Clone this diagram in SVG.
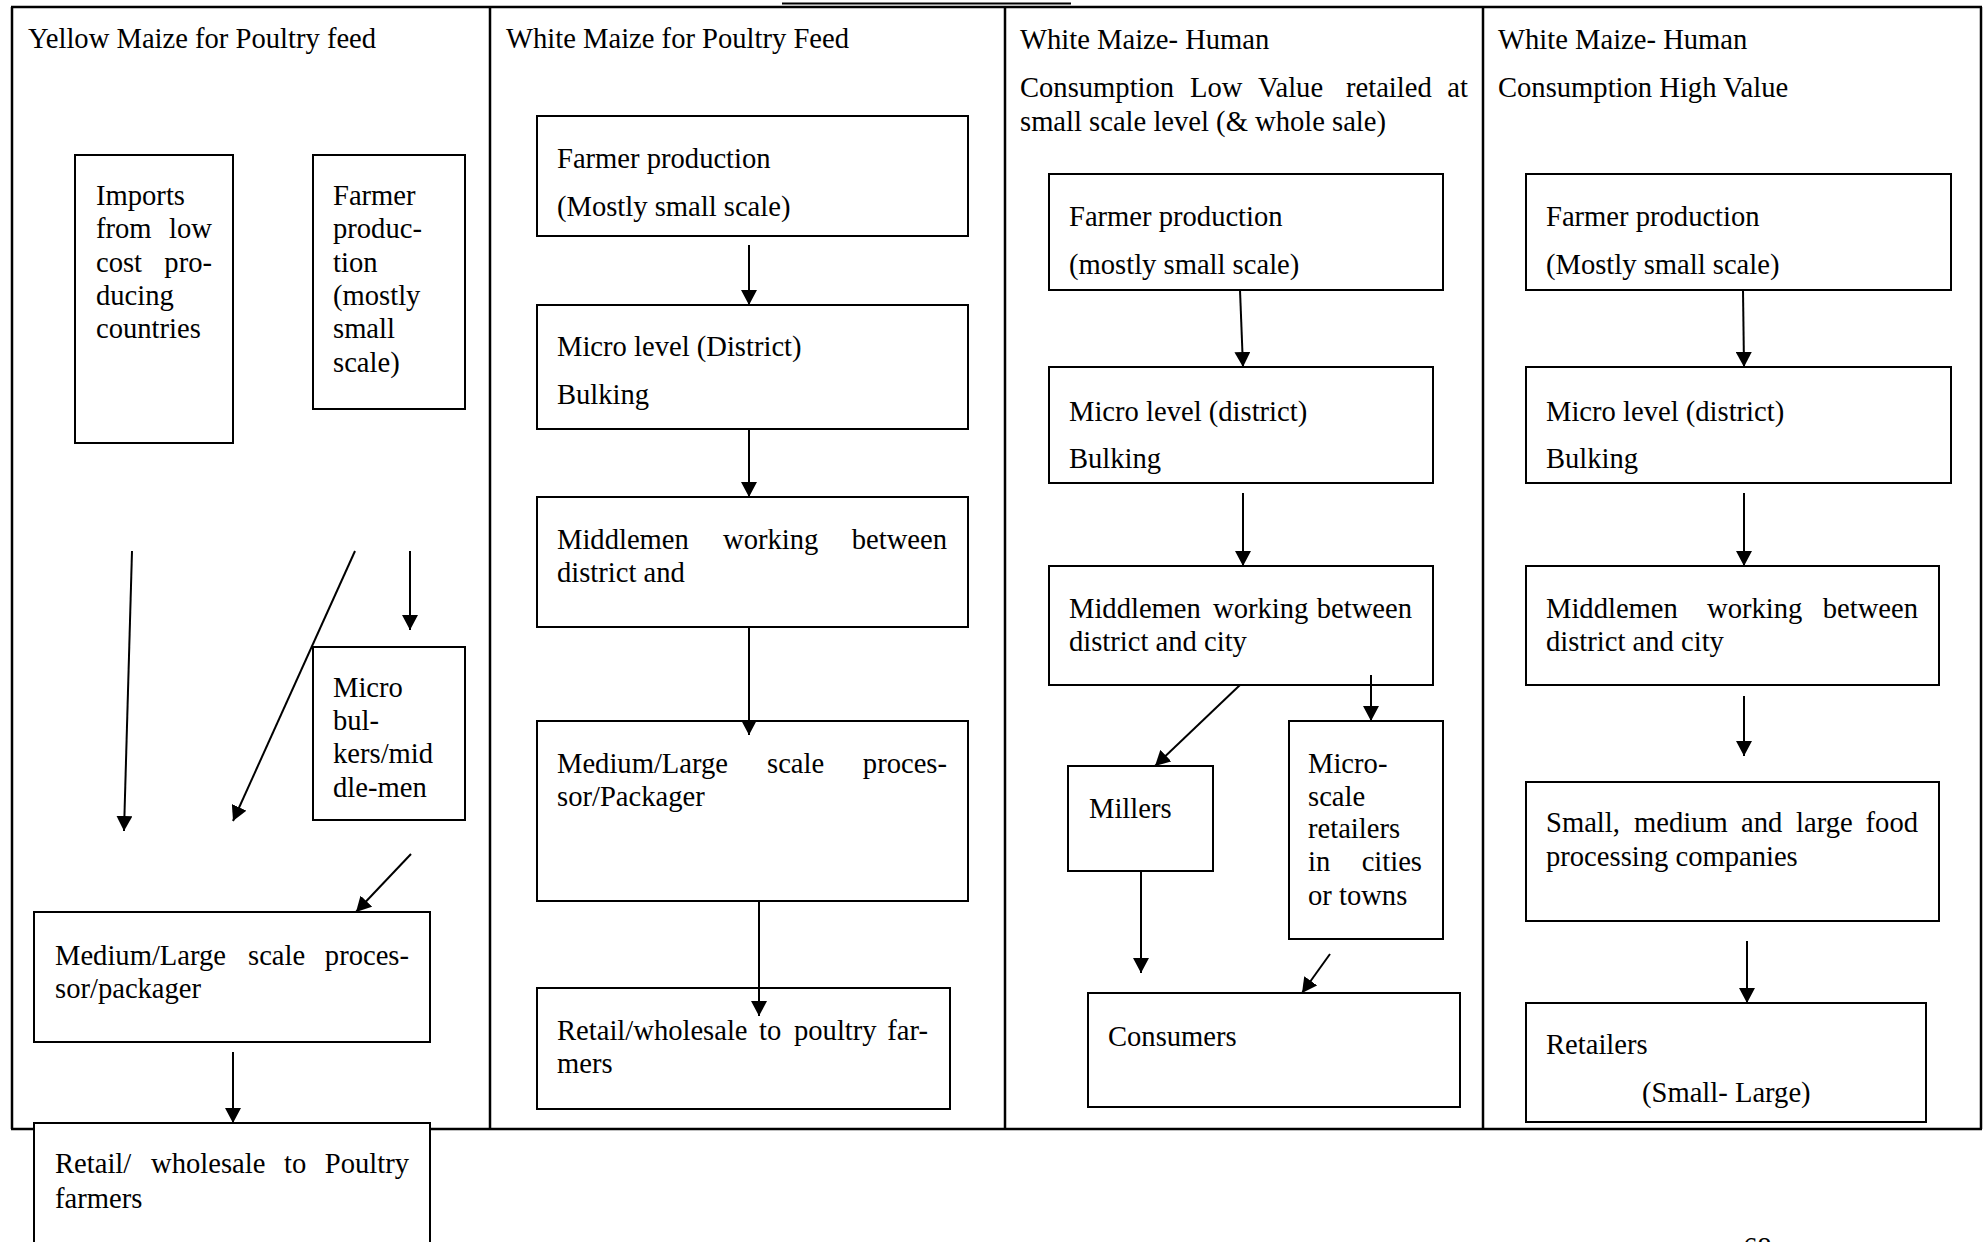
<svg xmlns="http://www.w3.org/2000/svg" width="1986" height="1242" viewBox="0 0 1986 1242">
  <style>
    .frame { stroke: #000; stroke-width: 2.5; fill: none; }
    .box { fill: #fff; stroke: #000; stroke-width: 2; }
    .t { font-family: "Liberation Serif", "Times New Roman", serif; font-size: 28.6px; fill: #000; }
    .e { text-anchor: end; }
    .arr { stroke: #000; stroke-width: 2; fill: none; marker-end: url(#ah); }
  </style>
  <defs>
    <marker id="ah" viewBox="0 0 15 16" refX="15" refY="8" markerWidth="15" markerHeight="16" markerUnits="userSpaceOnUse" orient="auto">
      <path d="M0,0 L15,8 L0,16 z" fill="#000"/>
    </marker>
  </defs>
  <rect width="1986" height="1242" fill="#fff"/>

  <!-- page frame and column rules -->
  <g id="frame">
    <line class="frame" x1="782" y1="3.5" x2="1071" y2="3.5" style="stroke-width:2"/>
    <line class="frame" x1="11" y1="7" x2="1982" y2="7"/>
    <line class="frame" x1="11" y1="1129" x2="1982" y2="1129"/>
    <line class="frame" x1="12" y1="7" x2="12" y2="1129"/>
    <line class="frame" x1="1981" y1="7" x2="1981" y2="1129"/>
    <line class="frame" x1="490" y1="7" x2="490" y2="1129"/>
    <line class="frame" x1="1005" y1="7" x2="1005" y2="1129"/>
    <line class="frame" x1="1483" y1="7" x2="1483" y2="1129"/>
  </g>

  <!-- column headings -->
  <g id="headings">
    <text class="t" x="28" y="48">Yellow Maize for Poultry feed</text>
    <text class="t" x="506" y="48">White Maize for Poultry Feed</text>
    <text class="t" x="1020" y="49">White Maize- Human</text>
    <text class="t" y="97"><tspan x="1020">Consumption</tspan><tspan x="1190">Low</tspan><tspan x="1258">Value</tspan><tspan x="1346">retailed</tspan><tspan class="e" x="1468">at</tspan></text>
    <text class="t" x="1020" y="131">small scale level (&amp; whole sale)</text>
    <text class="t" x="1498" y="49">White Maize- Human</text>
    <text class="t" x="1498" y="97">Consumption High Value</text>
  </g>

  <!-- column 1: yellow maize, poultry feed -->
  <g id="c1-imports">
    <rect class="box" x="75" y="155" width="158" height="288"/>
    <text class="t" x="96" y="205">Imports</text>
    <text class="t" y="238"><tspan x="96">from</tspan><tspan class="e" x="212">low</tspan></text>
    <text class="t" y="272"><tspan x="96">cost</tspan><tspan class="e" x="212">pro-</tspan></text>
    <text class="t" x="96" y="305">ducing</text>
    <text class="t" x="96" y="338">countries</text>
  </g>
  <g id="c1-farmer">
    <rect class="box" x="313" y="155" width="152" height="254"/>
    <text class="t" x="333" y="205">Farmer</text>
    <text class="t" x="333" y="238">produc-</text>
    <text class="t" x="333" y="272">tion</text>
    <text class="t" x="333" y="305">(mostly</text>
    <text class="t" x="333" y="338">small</text>
    <text class="t" x="333" y="372">scale)</text>
  </g>
  <g id="c1-micro">
    <rect class="box" x="313" y="647" width="152" height="173"/>
    <text class="t" x="333" y="697">Micro</text>
    <text class="t" x="333" y="730">bul-</text>
    <text class="t" x="333" y="763">kers/mid</text>
    <text class="t" x="333" y="797">dle-men</text>
  </g>
  <g id="c1-processor">
    <rect class="box" x="34" y="912" width="396" height="130"/>
    <text class="t" y="965"><tspan x="55">Medium/Large</tspan><tspan x="248">scale</tspan><tspan class="e" x="409">proces-</tspan></text>
    <text class="t" x="55" y="998">sor/packager</text>
  </g>
  <g id="c1-retail">
    <rect class="box" x="34" y="1123" width="396" height="140"/>
    <text class="t" y="1173"><tspan x="55">Retail/</tspan><tspan x="151">wholesale</tspan><tspan x="284">to</tspan><tspan class="e" x="409">Poultry</tspan></text>
    <text class="t" x="55" y="1208">farmers</text>
  </g>

  <!-- column 2: white maize, poultry feed -->
  <g id="c2-farmer">
    <rect class="box" x="537" y="116" width="431" height="120"/>
    <text class="t" x="557" y="168">Farmer production</text>
    <text class="t" x="557" y="216">(Mostly small scale)</text>
  </g>
  <g id="c2-micro">
    <rect class="box" x="537" y="305" width="431" height="124"/>
    <text class="t" x="557" y="356">Micro level (District)</text>
    <text class="t" x="557" y="404">Bulking</text>
  </g>
  <g id="c2-middlemen">
    <rect class="box" x="537" y="497" width="431" height="130"/>
    <text class="t" y="549"><tspan x="557">Middlemen</tspan><tspan x="723">working</tspan><tspan class="e" x="947">between</tspan></text>
    <text class="t" x="557" y="582">district and</text>
  </g>
  <g id="c2-processor">
    <rect class="box" x="537" y="721" width="431" height="180"/>
    <text class="t" y="773"><tspan x="557">Medium/Large</tspan><tspan x="767">scale</tspan><tspan class="e" x="947">proces-</tspan></text>
    <text class="t" x="557" y="806">sor/Packager</text>
  </g>
  <g id="c2-retail">
    <rect class="box" x="537" y="988" width="413" height="121"/>
    <text class="t" y="1040"><tspan x="557">Retail/wholesale</tspan><tspan x="759">to</tspan><tspan x="794">poultry</tspan><tspan class="e" x="928">far-</tspan></text>
    <text class="t" x="557" y="1073">mers</text>
  </g>

  <!-- column 3: white maize, human consumption, low value -->
  <g id="c3-farmer">
    <rect class="box" x="1049" y="174" width="394" height="116"/>
    <text class="t" x="1069" y="226">Farmer production</text>
    <text class="t" x="1069" y="274">(mostly small scale)</text>
  </g>
  <g id="c3-micro">
    <rect class="box" x="1049" y="367" width="384" height="116"/>
    <text class="t" x="1069" y="421">Micro level (district)</text>
    <text class="t" x="1069" y="468">Bulking</text>
  </g>
  <g id="c3-middlemen">
    <rect class="box" x="1049" y="566" width="384" height="119"/>
    <text class="t" y="618"><tspan x="1069">Middlemen</tspan><tspan x="1213">working</tspan><tspan class="e" x="1412">between</tspan></text>
    <text class="t" x="1069" y="651">district and city</text>
  </g>
  <g id="c3-millers">
    <rect class="box" x="1068" y="766" width="145" height="105"/>
    <text class="t" x="1089" y="818">Millers</text>
  </g>
  <g id="c3-microretail">
    <rect class="box" x="1289" y="721" width="154" height="218"/>
    <text class="t" x="1308" y="773">Micro-</text>
    <text class="t" x="1308" y="806">scale</text>
    <text class="t" x="1308" y="838">retailers</text>
    <text class="t" y="871"><tspan x="1308">in</tspan><tspan class="e" x="1422">cities</tspan></text>
    <text class="t" x="1308" y="905">or towns</text>
  </g>
  <g id="c3-consumers">
    <rect class="box" x="1088" y="993" width="372" height="114"/>
    <text class="t" x="1108" y="1046">Consumers</text>
  </g>

  <!-- column 4: white maize, human consumption, high value -->
  <g id="c4-farmer">
    <rect class="box" x="1526" y="174" width="425" height="116"/>
    <text class="t" x="1546" y="226">Farmer production</text>
    <text class="t" x="1546" y="274">(Mostly small scale)</text>
  </g>
  <g id="c4-micro">
    <rect class="box" x="1526" y="367" width="425" height="116"/>
    <text class="t" x="1546" y="421">Micro level (district)</text>
    <text class="t" x="1546" y="468">Bulking</text>
  </g>
  <g id="c4-middlemen">
    <rect class="box" x="1526" y="566" width="413" height="119"/>
    <text class="t" y="618"><tspan x="1546">Middlemen</tspan><tspan x="1707">working</tspan><tspan class="e" x="1918">between</tspan></text>
    <text class="t" x="1546" y="651">district and city</text>
  </g>
  <g id="c4-processors">
    <rect class="box" x="1526" y="782" width="413" height="139"/>
    <text class="t" y="832"><tspan x="1546">Small,</tspan><tspan x="1634">medium</tspan><tspan x="1741">and</tspan><tspan x="1796">large</tspan><tspan class="e" x="1918">food</tspan></text>
    <text class="t" x="1546" y="866">processing companies</text>
  </g>
  <g id="c4-retailers">
    <rect class="box" x="1526" y="1003" width="400" height="119"/>
    <text class="t" x="1546" y="1054">Retailers</text>
    <text class="t" x="1642" y="1102">(Small- Large)</text>
  </g>

  <!-- flow arrows -->
  <g id="connectors">
    <line class="arr" x1="132" y1="551" x2="124" y2="831"/>
    <line class="arr" x1="355" y1="551" x2="233" y2="821"/>
    <line class="arr" x1="410" y1="551" x2="410" y2="630"/>
    <line class="arr" x1="411" y1="854" x2="356" y2="912"/>
    <line class="arr" x1="233" y1="1052" x2="233" y2="1123"/>

    <line class="arr" x1="749" y1="245" x2="749" y2="305"/>
    <line class="arr" x1="749" y1="429" x2="749" y2="497"/>
    <line class="arr" x1="749" y1="627" x2="749" y2="735"/>
    <line class="arr" x1="759" y1="901" x2="759" y2="1016"/>

    <line class="arr" x1="1240" y1="290" x2="1243" y2="367"/>
    <line class="arr" x1="1243" y1="493" x2="1243" y2="566"/>
    <line class="arr" x1="1240" y1="685" x2="1155" y2="766"/>
    <line class="arr" x1="1371" y1="675" x2="1371" y2="721"/>
    <line class="arr" x1="1141" y1="871" x2="1141" y2="973"/>
    <line class="arr" x1="1330" y1="954" x2="1302" y2="993"/>

    <line class="arr" x1="1743" y1="290" x2="1744" y2="367"/>
    <line class="arr" x1="1744" y1="493" x2="1744" y2="566"/>
    <line class="arr" x1="1744" y1="696" x2="1744" y2="756"/>
    <line class="arr" x1="1747" y1="941" x2="1747" y2="1003"/>
  </g>

  <!-- page number at the foot -->
  <text class="t" x="1743" y="1257">68</text>
</svg>
